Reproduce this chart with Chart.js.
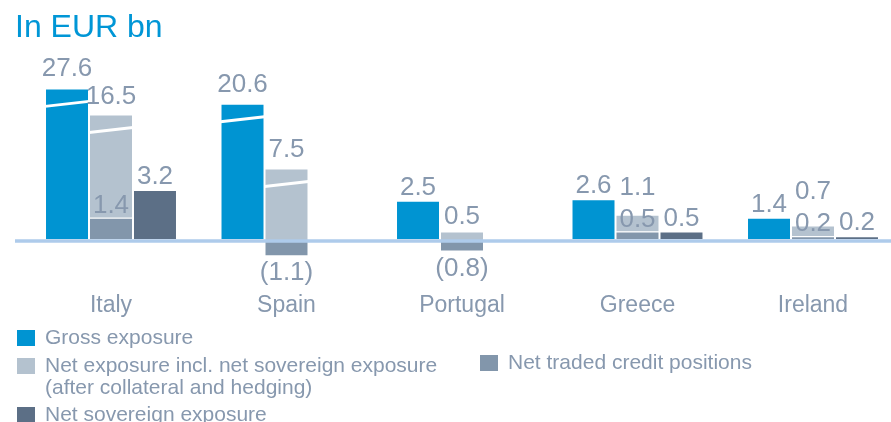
<!DOCTYPE html>
<html>
<head>
<meta charset="utf-8">
<script src="https://cdn.jsdelivr.net/npm/chart.js@4.4.1/dist/chart.umd.min.js"></script>
<style>
  html, body { margin: 0; padding: 0; background: #fff; overflow: hidden; }
  #wrap { position: relative; width: 891px; height: 422px; font-family: "Liberation Sans", Arial, sans-serif; }
  #chart { position: absolute; left: 0; top: 0; }
  #title { position: absolute; left: 15px; top: 10px; font-size: 32px; line-height: 32px; color: #0096d6; }
  .leg { position: absolute; font-size: 21px; line-height: 21.5px; color: #8798ae; white-space: pre; }
  .leg i { position: absolute; left: -28px; top: 3.5px; width: 18px; height: 16px; }
</style>
</head>
<body>
<div id="wrap">
  <canvas id="chart" width="891" height="422"></canvas>
  <div id="title">In EUR bn</div>
</div>
<script>
const countries = ['Italy', 'Spain', 'Portugal', 'Greece', 'Ireland'];
const grossExposure = [27.6, 20.6, 2.5, 2.6, 1.4];
const netExposure = [16.5, 7.5, 0.5, 1.1, 0.7];
const netTraded = [1.4, -1.1, -0.8, 0.5, 0.2];
const netSovereign = [3.2, null, null, 0.5, 0.2];
// heights as drawn: the big Italy / Spain bars are cut by an axis break
const grossShown = [9.8, 8.8, 2.5, 2.6, 1.4];
const netExposureShown = [6.7, 4.6, 0.5, 1.1, 0.7];

const textColor = '#8798ae';
const fontFamily = '"Liberation Sans", Arial, sans-serif';

const fmt = v => v < 0 ? '(' + Math.abs(v).toFixed(1) + ')' : v.toFixed(1);

const barDefaults = {
    borderColor: '#ffffff',
    borderWidth: 1,
    barPercentage: 1,
    categoryPercentage: 0.752,
    clip: false
};

const datasets = [
    { ...barDefaults, label: 'Gross exposure', data: grossShown, values: grossExposure, stack: 'gross', backgroundColor: '#0094d2' },
    { ...barDefaults, label: 'Net traded credit positions', data: netTraded, values: netTraded, stack: 'net', backgroundColor: '#8296ab' },
    { ...barDefaults, label: 'Net exposure incl. net sovereign exposure\n(after collateral and hedging)', data: netExposureShown, values: netExposure, stack: 'net', backgroundColor: '#b4c2cf' },
    { ...barDefaults, label: 'Net sovereign exposure', data: netSovereign, values: netSovereign, stack: 'sov', backgroundColor: '#5c6f86' }
];

// zero line, axis breaks and value labels
const decorations = {
    id: 'decorations',
    afterDatasetsDraw(chart) {
        const ctx = chart.ctx;
        const zeroY = chart.scales.y.getPixelForValue(0);

        ctx.save();
        ctx.strokeStyle = '#aecbeb';
        ctx.lineWidth = 3.5;
        ctx.beginPath();
        ctx.moveTo(15, zeroY + 1.75);
        ctx.lineTo(891, zeroY + 1.75);
        ctx.stroke();

        // break marks on bars that are drawn shorter than their value
        ctx.strokeStyle = '#ffffff';
        ctx.lineWidth = 3;
        chart.data.datasets.forEach((ds, di) => {
            chart.getDatasetMeta(di).data.forEach((bar, i) => {
                const v = ds.values[i];
                if (v == null || ds.data[i] >= v) return;
                const { x, y, width } = bar.getProps(['x', 'y', 'width'], true);
                ctx.beginPath();
                ctx.moveTo(x - width / 2, y + 18);
                ctx.lineTo(x + width / 2, y + 13);
                ctx.stroke();
            });
        });

        ctx.font = '26px ' + fontFamily;
        ctx.fillStyle = textColor;
        ctx.textAlign = 'center';
        ctx.textBaseline = 'alphabetic';
        const tradedBase = [];
        chart.data.datasets.forEach((ds, di) => {
            chart.getDatasetMeta(di).data.forEach((bar, i) => {
                const v = ds.values[i];
                if (v == null) return;
                const { x, y } = bar.getProps(['x', 'y'], true);
                const broken = ds.data[i] < v;
                let ly;
                if (v < 0) {
                    ly = y + 24;
                } else if (di === 1) {
                    ly = y - 5;
                    tradedBase[i] = ly;
                } else if (di === 2) {
                    ly = y - (broken ? 11 : 8);
                    if (tradedBase[i] !== undefined) ly = Math.min(ly, tradedBase[i] - 32);
                } else {
                    ly = y - (broken ? 12 : 6);
                }
                ctx.fillText(fmt(v), x, ly);
            });
        });
        ctx.restore();
    }
};

new Chart(document.getElementById('chart'), {
    type: 'bar',
    data: { labels: countries, datasets },
    options: {
        responsive: false,
        animation: false,
        devicePixelRatio: 1,
        layout: { padding: { top: 54.5, left: 111, right: 78, bottom: 96.9 } },
        plugins: { legend: { display: false }, tooltip: { enabled: false } },
        scales: {
            x: {
                stacked: true,
                offset: false,
                grid: { display: false, drawTicks: false },
                border: { display: false },
                ticks: { color: textColor, font: { size: 23, family: fontFamily }, padding: 6, maxRotation: 0, autoSkip: false }
            },
            y: { stacked: true, display: false, min: -3, max: 12 }
        }
    },
    plugins: [decorations]
});

// legend in the reference order and layout
const legendOrder = [0, 2, 1, 3];
const legendSpots = [[45, 326], [45, 354], [508, 351], [45, 403]];
const wrap = document.getElementById('wrap');
legendOrder.forEach((di, k) => {
    const el = document.createElement('div');
    el.className = 'leg';
    el.style.left = legendSpots[k][0] + 'px';
    el.style.top = legendSpots[k][1] + 'px';
    el.textContent = datasets[di].label;
    const sw = document.createElement('i');
    sw.style.background = datasets[di].backgroundColor;
    el.appendChild(sw);
    wrap.appendChild(el);
});
</script>
</body>
</html>
